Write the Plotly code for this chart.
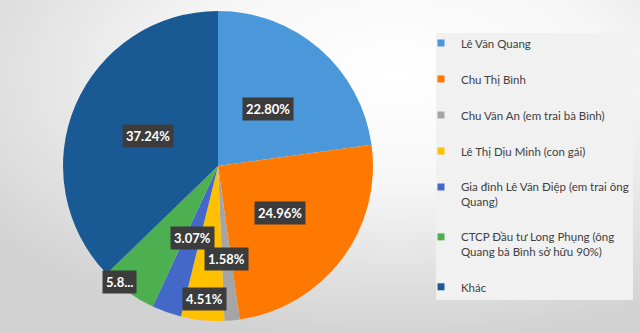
import math
import base64
import plotly.graph_objects as go

# ---- data ----
labels = [
    "Lê Văn Quang",
    "Chu Thị Bình",
    "Chu Văn An (em trai bà Bình)",
    "Lê Thị Dịu Minh (con gái)",
    "Gia đình Lê Văn Điệp (em trai ông<br>Quang)",
    "CTCP Đầu tư Long Phụng (ông<br>Quang bà Bình sở hữu 90%)",
    "Khác",
]
values = [22.80, 24.96, 1.58, 4.51, 3.07, 5.84, 37.24]
value_text = ["22.80%", "24.96%", "1.58%", "4.51%", "3.07%", "5.8...", "37.24%"]

# ---- styles ----
colors = ["#4A98DA", "#FF7800", "#A5A5A5", "#FFC000", "#4468C8", "#4CAF50", "#1A5A94"]
label_radius = [0.49, 0.50, 0.60, 0.86, 0.49, 0.98, 0.49]  # fraction of pie radius
label_shift = [0, 0, 0, 0, 0, 5, 0]  # degrees

W, H = 640, 333
dom_x = [63 / W, 373 / W]
dom_y = [1 - 321 / H, 1 - 11 / H]
cx = (dom_x[0] + dom_x[1]) / 2 * W
cy = (1 - (dom_y[0] + dom_y[1]) / 2) * H
R = (dom_x[1] - dom_x[0]) * W / 2

fig = go.Figure()

fig.add_trace(go.Pie(
    labels=labels,
    values=values,
    sort=False,
    direction="clockwise",
    rotation=0,
    marker=dict(colors=colors, line=dict(width=0)),
    textinfo="none",
    hoverinfo="skip",
    showlegend=False,
    domain=dict(x=dom_x, y=dom_y),
))

# legend entries
for i, (lab, col) in enumerate(zip(labels, colors)):
    fig.add_trace(go.Scatter(
        x=[None], y=[None], mode="markers", name=lab,
        marker=dict(symbol="square", size=7, color=col),
        legendgroup=f"g{i}", showlegend=True, hoverinfo="skip",
    ))

# data labels positioned from the values
total = sum(values)
cum = 0.0
annotations = []
for v, txt, rf, sh in zip(values, value_text, label_radius, label_shift):
    mid = (cum + v / 2) / total * 2 * math.pi + math.radians(sh)
    cum += v
    px = cx + rf * R * math.sin(mid)
    py = cy - rf * R * math.cos(mid)
    annotations.append(dict(
        x=px / W, y=1 - py / H, xref="paper", yref="paper",
        text=f"<b>{txt}</b>", showarrow=False,
        font=dict(family="Lato", size=13, color="white"),
        bgcolor="#3C3C3C", borderpad=3,
        xanchor="center", yanchor="middle",
    ))

svg = f'''<svg xmlns="http://www.w3.org/2000/svg" width="{W}" height="{H}">
<defs><radialGradient id="g" cx="0.62" cy="0.22" r="0.8" fx="0.62" fy="0.22">
<stop offset="0" stop-color="#ffffff"/><stop offset="0.4" stop-color="#f7f7f7"/>
<stop offset="1" stop-color="#d2d2d2"/></radialGradient></defs>
<rect width="{W}" height="{H}" fill="url(#g)"/></svg>'''
src = "data:image/svg+xml;base64," + base64.b64encode(svg.encode()).decode()

fig.update_layout(
    width=W, height=H,
    margin=dict(l=0, r=0, t=0, b=0, autoexpand=False),
    paper_bgcolor="#e6e6e6",
    plot_bgcolor="rgba(0,0,0,0)",
    xaxis=dict(visible=False),
    yaxis=dict(visible=False),
    images=[dict(source=src, xref="paper", yref="paper", x=0, y=1,
                 sizex=1, sizey=1, sizing="stretch", layer="below")],
    shapes=[dict(type="rect", xref="paper", yref="paper",
                 x0=436 / W, x1=633 / W, y0=1 - 300 / H, y1=1 - 33 / H,
                 fillcolor="#F1F1F1", line=dict(width=0), layer="below")],
    annotations=annotations,
    legend=dict(
        x=421 / W, y=1 - 29 / H, xanchor="left", yanchor="top",
        bgcolor="rgba(0,0,0,0)", borderwidth=0,
        font=dict(family="Lato", size=11.5, color="#404040"),
        tracegroupgap=17, traceorder="grouped", valign="top",
        itemwidth=30,
    ),
)

fig.write_html("out.html", config={"displayModeBar": False},
               post_script="document.body.style.margin='0';document.body.style.padding='0';")
